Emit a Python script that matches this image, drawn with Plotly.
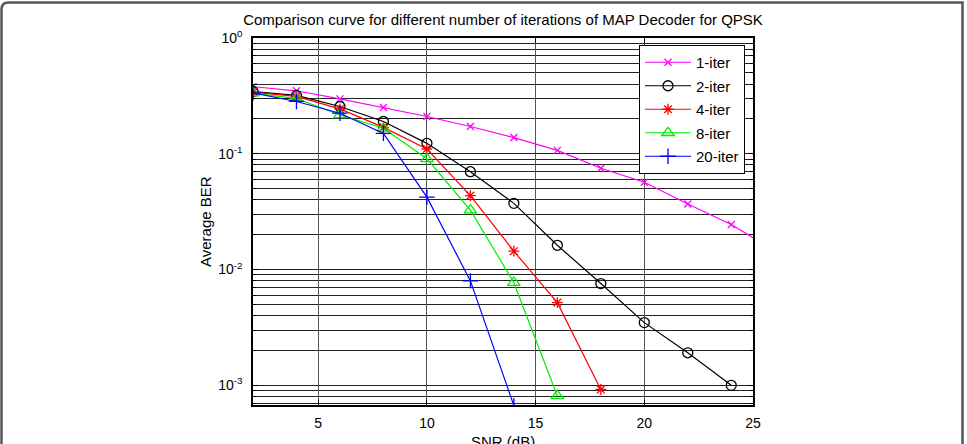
import plotly.graph_objects as go

snr = [2, 4, 6, 8, 10, 12, 14, 16, 18, 20, 22, 24, 26]

ber_1 = [0.38, 0.35, 0.298, 0.251, 0.21, 0.172, 0.138, 0.107, 0.075, 0.0567, 0.0368, 0.0245, 0.0145]
ber_2 = [0.345, 0.319, 0.256, 0.19, 0.123, 0.070, 0.0373, 0.0162, 0.00757, 0.00348, 0.00191, 0.001]
ber_4 = [0.34, 0.313, 0.244, 0.169, 0.110, 0.0435, 0.0144, 0.00518, 0.00092]
ber_8 = [0.335, 0.30, 0.217, 0.166, 0.0905, 0.0326, 0.0077, 0.00081]
ber_20 = [0.335, 0.283, 0.224, 0.150, 0.0422, 0.00798, 0.000668]

series = [
    ("1-iter", ber_1, "#ff00ff", "x-thin-open", 7),
    ("2-iter", ber_2, "#000000", "circle-open", 10),
    ("4-iter", ber_4, "#ff0000", "asterisk-open", 9),
    ("8-iter", ber_8, "#00ee00", "triangle-up-open", 11),
    ("20-iter", ber_20, "#0000ff", "cross-thin-open", 11),
]

ytick_vals = [1e-3, 1e-2, 1e-1, 1]
ytick_text = ["10<sup>-3</sup>", "10<sup>-2</sup>", "10<sup>-1</sup>", "10<sup>0</sup>"]
xtick_vals = [5, 10, 15, 20, 25]

fig = go.Figure()
for name, vals, color, sym, size in series:
    fig.add_trace(go.Scatter(
        x=snr[:len(vals)], y=vals, name=name, mode="lines+markers",
        legendgroup=name,
        line=dict(color=color, width=1.2),
        marker=dict(symbol=sym, size=size, color=color, line=dict(color=color, width=1.3)),
        cliponaxis=True,
    ))

FONT = "Liberation Sans, Arial, sans-serif"
L, R, T, B = 253, 214, 38, 39
W, H = 967, 444
pw, ph = W - L - R, H - T - B

def px(x):
    return (x - L) / pw

def py(y):
    return (H - B - y) / ph

x0, x1, yt, yb = px(1.5), px(962.5), py(2.5), py(460)
rx, ry = 7 / pw, 7 / ph
border = (f"M {x0},{yb} L {x0},{yt - ry} Q {x0},{yt} {x0 + rx},{yt} "
          f"L {x1},{yt} L {x1},{yb}")

fig.update_layout(
    width=W, height=H,
    margin=dict(l=L, r=R, t=T, b=B, autoexpand=False),
    paper_bgcolor="white", plot_bgcolor="white",
    font=dict(family=FONT, size=14, color="black"),
    title=dict(text="Comparison curve for different number of iterations of MAP Decoder for QPSK",
               xref="paper", x=px(503), xanchor="center", y=1 - 20 / H, yanchor="middle",
               font=dict(size=15, family=FONT, color="black")),
    showlegend=True,
    legend=dict(x=px(745), xanchor="right", y=py(45), yanchor="top",
                bgcolor="white", bordercolor="black", borderwidth=1,
                font=dict(size=15, family=FONT), tracegroupgap=1,
                itemwidth=46),
    xaxis=dict(range=[2, 25], tickvals=xtick_vals, ticks="inside", ticklen=5,
               tickcolor="black", showline=True, linecolor="black", linewidth=1.5,
               mirror="ticks", showgrid=True, gridcolor="#555", gridwidth=1,
               zeroline=False, tickfont=dict(size=14), automargin=False,
               ticklabelstandoff=4),
    yaxis=dict(type="log", range=[-3.17, 0], tickvals=ytick_vals, ticktext=ytick_text,
               ticks="inside", ticklen=5, tickcolor="black", showline=True,
               linecolor="black", linewidth=1.5, mirror="ticks",
               showgrid=True, gridcolor="#222", gridwidth=1.2, zeroline=False,
               tickfont=dict(size=14), automargin=False, ticklabelstandoff=6,
               minor=dict(dtick="D1", showgrid=True, gridcolor="#222", gridwidth=1.2,
                          ticks="inside", ticklen=3, tickcolor="black")),
    annotations=[
        dict(text="SNR (dB)", xref="paper", yref="paper", x=px(503), y=py(441),
             xanchor="center", yanchor="middle", showarrow=False, font=dict(size=15)),
        dict(text="Average BER", xref="paper", yref="paper", x=px(205), y=py(222),
             xanchor="center", yanchor="middle", showarrow=False, textangle=-90,
             font=dict(size=15)),
    ],
    shapes=[dict(type="path", xref="paper", yref="paper", path=border,
                 line=dict(color="#555", width=2.5), layer="above")],
)

fig.write_html("out.html")
